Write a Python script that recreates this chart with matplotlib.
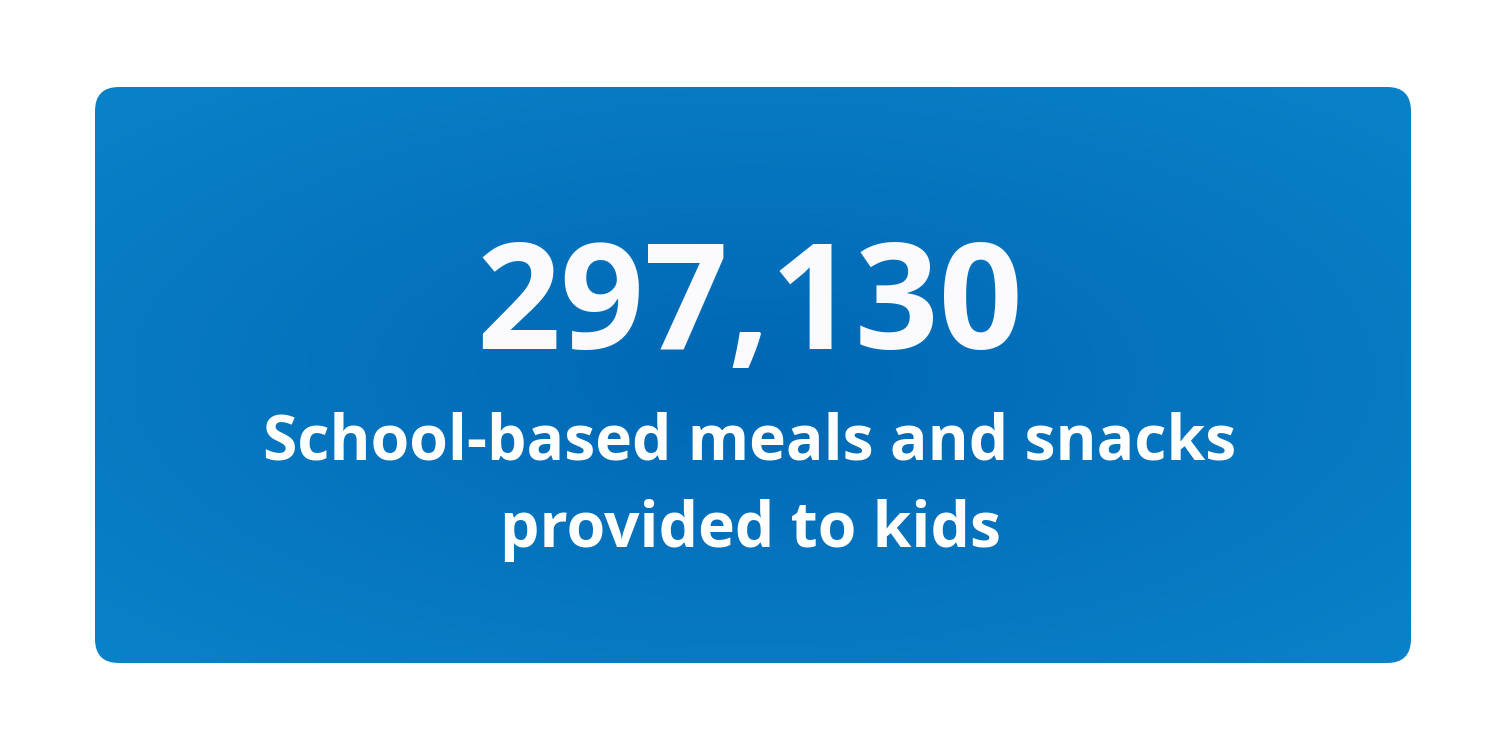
import matplotlib.pyplot as plt
import numpy as np
from matplotlib.patches import FancyBboxPatch
from matplotlib.colors import LinearSegmentedColormap

# card content
stat_value = "297,130"
stat_label = ["School-based meals and snacks", "provided to kids"]

fig = plt.figure(figsize=(15, 7.5), dpi=100)
ax = fig.add_axes([0, 0, 1, 1])
ax.set_xlim(0, 1500)
ax.set_ylim(750, 0)
ax.axis('off')

# rounded card
card = FancyBboxPatch((95, 87), 1316, 576, boxstyle="round,pad=0,rounding_size=24",
                      facecolor='none', edgecolor='none')
ax.add_patch(card)

# radial gradient, darker in the middle
xx, yy = np.meshgrid(np.linspace(-1, 1, 400), np.linspace(-1, 1, 200))
r = np.sqrt(xx**2 + yy**2) / np.sqrt(2)
cmap = LinearSegmentedColormap.from_list('card', ['#0067b4', '#0a82c9'])
img = ax.imshow(r, cmap=cmap, extent=(95, 1411, 663, 87), vmin=0, vmax=1,
                interpolation='bilinear', zorder=1)
img.set_clip_path(card)

ax.text(750, 310, stat_value, color='#fafaff', fontsize=106, fontweight='bold',
        family='Open Sans', ha='center', va='center', zorder=3)
ax.text(750, 443, stat_label[0], color='white', fontsize=45, fontweight='bold',
        family='Open Sans', ha='center', va='center', zorder=3)
ax.text(750, 530, stat_label[1], color='white', fontsize=45, fontweight='bold',
        family='Open Sans', ha='center', va='center', zorder=3)

fig.savefig('out.png', dpi=100, facecolor='white')
